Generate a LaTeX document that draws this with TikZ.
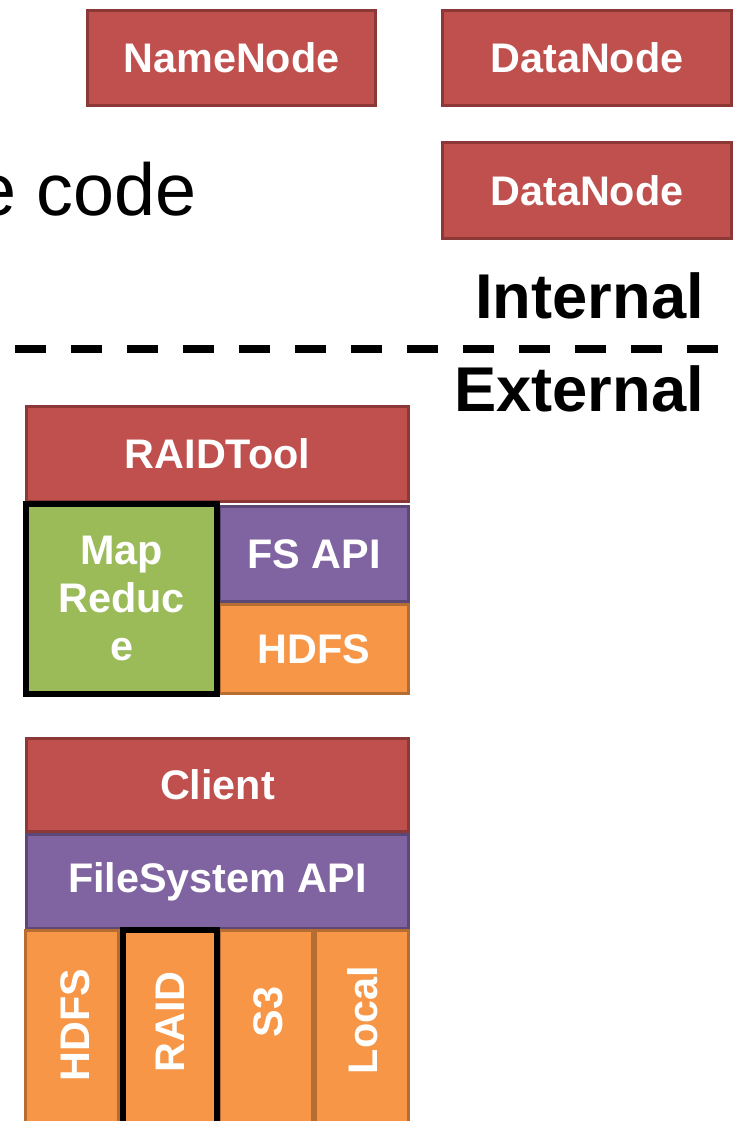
\documentclass[tikz,border=0pt]{standalone}
\usepackage{fontspec}
\setmainfont{Liberation Sans}
\definecolor{rfill}{HTML}{C0504D}
\definecolor{rline}{HTML}{8C3836}
\definecolor{pfill}{HTML}{8064A2}
\definecolor{pline}{HTML}{5C4776}
\definecolor{ofill}{HTML}{F79646}
\definecolor{oline}{HTML}{B66D31}
\definecolor{gfill}{HTML}{9BBB59}
\tikzset{
  box/.style={rectangle, inner sep=0pt, line width=3bp, text=white,
    font=\fontsize{41.5}{48}\selectfont\bfseries, align=center},
  redbox/.style={box, fill=rfill, draw=rline},
  purplebox/.style={box, fill=pfill, draw=pline},
  orangebox/.style={box, fill=ofill, draw=oline},
  greenbox/.style={box, fill=gfill, draw=black, line width=6bp},
  hilite/.style={box, draw=black, line width=6bp, fill=ofill},
  bigtext/.style={inner sep=0pt, font=\fontsize{63.5}{70}\selectfont\bfseries},
}
\begin{document}
\begin{tikzpicture}[x=1bp,y=-1bp]
\useasboundingbox (0,0) rectangle (734,1121);
\clip (0,0) rectangle (734,1121);
% top boxes
\node[redbox, minimum width=288bp, minimum height=95bp] (nn) at (231.5,58) {NameNode};
\node[redbox, minimum width=289bp, minimum height=95bp] (dn1) at (587,58) {DataNode};
\node[redbox, minimum width=289bp, minimum height=96bp] (dn2) at (587,190.5) {DataNode};
\node[anchor=base east, inner sep=0pt, font=\fontsize{74}{80}\selectfont] (code) at (197,215) {e code};
% divider
\node[bigtext, anchor=base east] (int) at (704,318) {Internal};
\coordinate (dl) at (15,349);
\coordinate (dr) at (722,349);
\draw[line width=8bp, dash pattern=on 31bp off 25bp] (dl) -- (dr);
\node[bigtext, anchor=base east] (ext) at (704,411) {External};
% RAIDTool stack
\node[redbox, minimum width=382bp, minimum height=95bp] (rt) at (217.5,453.5) {RAIDTool};
\node[purplebox, minimum width=189bp, minimum height=95bp] (fsapi) at (314,554) {FS API};
\node[orangebox, minimum width=189bp, minimum height=89bp] (hdfs1) at (314,649) {HDFS};
\node[greenbox, minimum width=190bp, minimum height=190bp] (mr) at (121.5,598.5) {Map\\Reduc\\e};
% Client stack
\node[redbox, minimum width=382bp, minimum height=93bp] (cl) at (217.5,785) {Client};
\node[purplebox, minimum width=382bp, minimum height=94bp] (fsa) at (217.5,881.5) {FileSystem API};
\node[orangebox, minimum width=92bp, minimum height=200bp] (hdfs2) at (72,1030) {};
\node[orangebox, minimum width=93bp, minimum height=200bp] (s3) at (266,1030) {};
\node[orangebox, minimum width=93bp, minimum height=200bp] (loc) at (362,1030) {};
\node[hilite, minimum width=94bp, minimum height=200bp] (raid) at (169.5,1030) {};
\node[box, rotate=90] (thdfs) at (75,1025) {HDFS};
\node[box, rotate=90] (traid) at (170,1022) {RAID};
\node[box, rotate=90] (ts3) at (268,1012) {S3};
\node[box, rotate=90] (tloc) at (363,1020) {Local};
\end{tikzpicture}
\end{document}
